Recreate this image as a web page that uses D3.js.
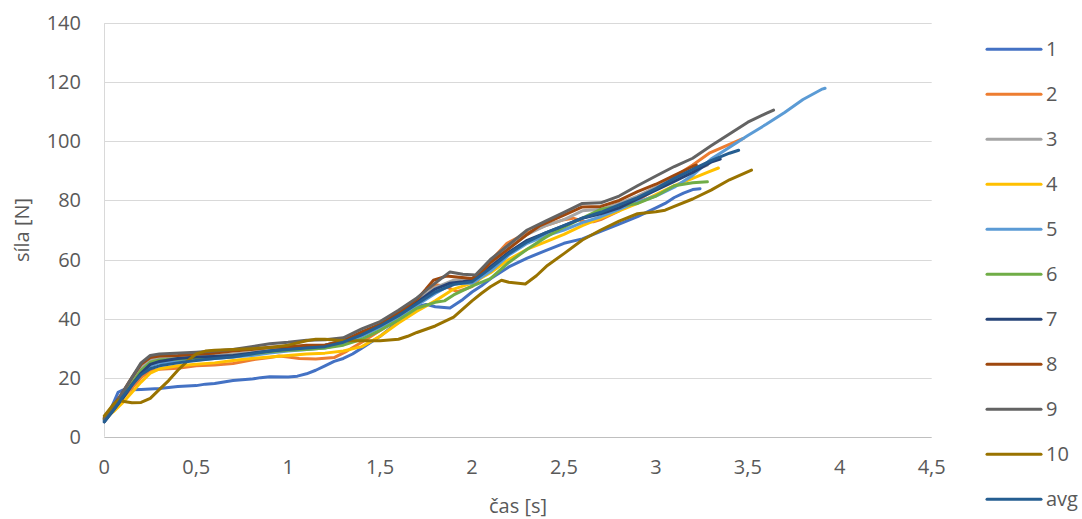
<!DOCTYPE html>
<html>
<head>
<meta charset="utf-8">
<script src="https://cdn.jsdelivr.net/npm/d3@7"></script>
<style>
  html, body { margin: 0; padding: 0; background: #fff; }
  svg { display: block; }
  text { font-family: "Open Sans", "Noto Sans", sans-serif; fill: #595959; }
</style>
</head>
<body>
<svg id="chart" width="1082" height="519"></svg>
<script>
// ---- data (time [s], force [N]) ----
const s1 = [[0,5.5],[0.04,10],[0.075,15],[0.1,15.8],[0.2,16],[0.3,16.3],[0.4,17],[0.5,17.3],[0.55,17.8],[0.6,18],[0.7,19],[0.8,19.5],[0.85,20],[0.9,20.3],[1.0,20.2],[1.05,20.5],[1.1,21.3],[1.15,22.5],[1.2,24],[1.25,25.5],[1.3,26.5],[1.35,28],[1.4,30],[1.45,32],[1.5,34],[1.55,36.5],[1.6,39],[1.65,41.5],[1.7,44],[1.75,44.8],[1.8,44],[1.88,43.6],[1.95,46.5],[2.0,49],[2.05,51],[2.1,53.5],[2.2,57.5],[2.3,60.5],[2.4,63],[2.5,65.5],[2.6,67],[2.7,69.5],[2.8,72],[2.9,74.5],[3.0,77.5],[3.05,79],[3.1,81],[3.15,82.5],[3.2,83.7],[3.24,84]];
const s2 = [[0,6],[0.05,9.5],[0.1,13],[0.15,16.5],[0.2,20],[0.25,22.3],[0.3,22.8],[0.4,23.2],[0.5,24],[0.6,24.3],[0.7,24.8],[0.8,26],[0.9,26.8],[0.95,27.3],[1.0,27],[1.06,26.5],[1.15,26.3],[1.25,26.8],[1.32,29],[1.4,32],[1.5,36],[1.6,40],[1.7,45],[1.75,47.4],[1.8,51.5],[1.85,51],[1.92,49.1],[2.0,50.8],[2.05,54],[2.1,59.5],[2.19,65.5],[2.3,69],[2.4,71.5],[2.5,73.5],[2.55,74],[2.6,73],[2.66,72.8],[2.7,73.5],[2.8,76.5],[2.9,80],[3.0,84],[3.1,88],[3.2,92],[3.29,96],[3.4,99],[3.475,101]];
const s3 = [[0,6],[0.05,10],[0.1,14.5],[0.15,19],[0.2,23.5],[0.25,26],[0.3,26.8],[0.4,27],[0.5,27.2],[0.6,27.5],[0.7,28],[0.8,28.5],[0.9,29.5],[1.0,30],[1.1,30.3],[1.2,30.5],[1.3,32],[1.4,35],[1.5,38],[1.6,41.5],[1.7,46],[1.8,50.5],[1.9,53],[2.0,53.5],[2.1,58.5],[2.2,64],[2.3,68.5],[2.4,71.5],[2.5,73.5],[2.6,76.5],[2.7,77],[2.8,79],[2.9,81.5],[3.0,84.5],[3.1,87.5],[3.2,90],[3.28,92]];
const s4 = [[0,6],[0.05,8.5],[0.1,11.5],[0.15,15],[0.2,18.5],[0.25,21.5],[0.3,23],[0.4,24],[0.5,24.5],[0.6,25],[0.7,25.8],[0.8,26.5],[0.9,27],[1.0,27.5],[1.1,28],[1.2,28.3],[1.3,29],[1.4,30.5],[1.5,34],[1.6,38.5],[1.7,42.5],[1.8,46],[1.9,50],[2.0,52],[2.1,55.5],[2.2,60],[2.3,63.5],[2.4,66],[2.5,68.5],[2.6,71.5],[2.7,74],[2.8,76.5],[2.9,79],[3.0,82],[3.1,85],[3.2,87.5],[3.28,89.5],[3.34,91]];
const s5 = [[0,5.5],[0.05,9.5],[0.1,13.5],[0.15,17.5],[0.2,21.5],[0.25,24],[0.3,25],[0.4,25.5],[0.5,26],[0.6,26.5],[0.7,27],[0.8,27.5],[0.9,28.3],[1.0,29],[1.1,29.5],[1.2,30],[1.3,31.5],[1.4,34],[1.5,37],[1.6,40.5],[1.7,44.5],[1.8,48.5],[1.9,52],[2.0,52],[2.1,56],[2.2,61.5],[2.3,65.5],[2.4,68],[2.5,70],[2.6,72.5],[2.7,74.5],[2.8,77],[2.9,79.5],[3.0,81.5],[3.1,84.5],[3.2,88.5],[3.3,94],[3.42,98.8],[3.5,102],[3.6,105.8],[3.7,109.8],[3.8,114.2],[3.9,117.6],[3.92,118]];
const s6 = [[0,6],[0.05,9.5],[0.1,13.5],[0.15,18],[0.2,22.5],[0.25,25.2],[0.3,26],[0.4,26.3],[0.5,26.5],[0.6,27],[0.7,27.3],[0.8,28],[0.9,28.8],[1.0,29.3],[1.1,29.5],[1.2,30],[1.3,31],[1.4,33],[1.5,36],[1.6,39.5],[1.7,43.5],[1.8,45.5],[1.85,46],[1.9,48],[2.0,51],[2.1,53.5],[2.2,59],[2.3,63.5],[2.4,67.5],[2.5,71],[2.6,74],[2.7,77],[2.8,78],[2.9,79],[3.0,81.5],[3.1,85],[3.2,86],[3.28,86.3]];
const s7 = [[0,5],[0.05,9],[0.1,13],[0.15,17.5],[0.2,21.5],[0.25,24.5],[0.3,25.5],[0.4,26.5],[0.5,27],[0.6,27.2],[0.7,27.5],[0.8,28.3],[0.9,29],[1.0,29.8],[1.1,30.5],[1.2,31],[1.3,32.5],[1.4,35],[1.5,38],[1.6,41.5],[1.7,45.5],[1.8,50],[1.88,52],[1.95,52.5],[2.0,53],[2.1,57.5],[2.2,62.5],[2.3,66.5],[2.4,69],[2.5,71.5],[2.6,74],[2.7,75.5],[2.8,77.5],[2.9,80.5],[3.0,83.5],[3.1,86.5],[3.2,89.5],[3.3,93],[3.35,94]];
const s8 = [[0,6.5],[0.05,10.5],[0.1,15],[0.15,20],[0.2,24.5],[0.25,26.8],[0.3,27.3],[0.4,27.5],[0.5,28],[0.6,28.3],[0.7,29],[0.8,29.5],[0.9,30.3],[1.0,30.5],[1.1,31],[1.2,31],[1.3,32.5],[1.4,35.5],[1.5,38],[1.6,42],[1.7,46.5],[1.75,50],[1.79,53],[1.86,54.4],[1.93,54],[2.0,53.6],[2.05,55.5],[2.1,59],[2.19,63.2],[2.3,68.5],[2.37,71.5],[2.5,75],[2.6,77.8],[2.7,78],[2.8,80],[2.9,83],[3.0,85.5],[3.1,88.5],[3.2,91.5],[3.22,92]];
const s9 = [[0,6],[0.05,10],[0.1,15],[0.15,20],[0.2,25],[0.25,27.5],[0.3,28],[0.5,28.6],[0.6,29],[0.7,29.5],[0.8,30.5],[0.9,31.5],[1.0,32],[1.1,32.7],[1.2,32.8],[1.3,33.5],[1.4,36.5],[1.5,39],[1.6,42.8],[1.7,47],[1.8,52],[1.88,55.8],[1.95,55],[2.02,54.8],[2.1,60],[2.2,65],[2.3,70],[2.4,73],[2.5,76],[2.6,79],[2.7,79.2],[2.8,81.5],[2.9,85],[3.0,88.3],[3.1,91.5],[3.2,94.3],[3.3,98.5],[3.4,102.5],[3.5,106.5],[3.6,109.5],[3.64,110.6]];
const s10 = [[0,7],[0.05,11],[0.08,12.5],[0.1,12],[0.15,11.5],[0.2,11.6],[0.25,13],[0.3,16],[0.35,19],[0.4,22.5],[0.45,25.5],[0.5,28],[0.55,29],[0.6,29.3],[0.7,29.5],[0.8,29.8],[0.9,30.2],[1.0,31],[1.1,32.5],[1.15,33],[1.2,33],[1.3,32.5],[1.4,32.5],[1.5,32.5],[1.6,33],[1.65,34],[1.7,35.3],[1.8,37.5],[1.9,40.5],[2.0,46],[2.05,48.5],[2.1,50.8],[2.16,53],[2.2,52.3],[2.29,51.7],[2.35,54.5],[2.41,58],[2.5,62],[2.6,66.6],[2.7,70],[2.8,73],[2.9,75.5],[3.0,76.2],[3.05,76.7],[3.1,78],[3.2,80.5],[3.3,83.5],[3.4,87],[3.52,90.3]];
const avg = [[0,5],[0.05,9],[0.1,13.5],[0.15,17.5],[0.2,21],[0.25,23],[0.3,24],[0.4,25],[0.5,25.8],[0.6,26.5],[0.7,27],[0.8,28],[0.9,29],[1.0,29.5],[1.1,30],[1.2,30.5],[1.3,32],[1.4,34.5],[1.5,37.5],[1.6,41],[1.7,45],[1.8,49],[1.9,51.5],[2.0,52.5],[2.1,57],[2.2,62],[2.3,66],[2.4,69],[2.5,71.5],[2.6,74],[2.7,76],[2.8,78.5],[2.9,81],[3.0,84],[3.1,87.5],[3.2,90.5],[3.3,93.5],[3.4,96],[3.45,97]];

const seriesNames = ["1","2","3","4","5","6","7","8","9","10","avg"];
const seriesData = [s1,s2,s3,s4,s5,s6,s7,s8,s9,s10,avg];
const colors = ["#4472C4","#ED7D31","#A5A5A5","#FFC000","#5B9BD5","#70AD47","#264478","#9E480E","#636363","#997300","#255E91"];
const xTicks = [0,0.5,1,1.5,2,2.5,3,3.5,4,4.5];
const yTicks = [0,20,40,60,80,100,120,140];
const xTitle = "čas [s]";
const yTitle = "síla [N]";

// ---- layout ----
const svg = d3.select("#chart");
const pLeft = 104.3, pRight = 931.7, pTop = 23.3, pBottom = 436.7;
const x = d3.scaleLinear().domain([0, 4.5]).range([pLeft, pRight]);
const y = d3.scaleLinear().domain([0, 140]).range([pBottom, pTop]);
const loc = d3.formatLocale({decimal: ",", thousands: " ", grouping: [3], currency: ["", ""]});
const fmt = v => loc.format("")(v);

// gridlines
svg.append("g").selectAll("line").data(yTicks.filter(d => d > 0)).join("line")
  .attr("x1", pLeft).attr("x2", pRight)
  .attr("y1", d => Math.round(y(d)) + 0.5).attr("y2", d => Math.round(y(d)) + 0.5)
  .attr("stroke", "#D9D9D9").attr("stroke-width", 1);
// left axis line
svg.append("line").attr("x1", Math.round(pLeft) + 0.5).attr("x2", Math.round(pLeft) + 0.5)
  .attr("y1", pTop).attr("y2", pBottom).attr("stroke", "#D9D9D9").attr("stroke-width", 1);
// bottom axis line
svg.append("line").attr("x1", pLeft).attr("x2", pRight)
  .attr("y1", Math.round(pBottom) + 0.5).attr("y2", Math.round(pBottom) + 0.5)
  .attr("stroke", "#BFBFBF").attr("stroke-width", 1);

// y tick labels
svg.append("g").selectAll("text").data(yTicks).join("text")
  .attr("x", 81).attr("y", d => y(d)).attr("dy", "0.35em")
  .attr("text-anchor", "end").attr("font-size", 20).text(d => fmt(d));
// x tick labels
svg.append("g").selectAll("text").data(xTicks).join("text")
  .attr("x", d => x(d)).attr("y", 467).attr("dy", "0.35em")
  .attr("text-anchor", "middle").attr("font-size", 20).text(d => fmt(d));

// axis titles
svg.append("text").attr("x", (pLeft + pRight) / 2).attr("y", 506).attr("dy", "0.35em")
  .attr("text-anchor", "middle").attr("font-size", 20).text(xTitle);
svg.append("text").attr("transform", `translate(22,${(pTop + pBottom) / 2}) rotate(-90)`)
  .attr("dy", "0.35em").attr("text-anchor", "middle").attr("font-size", 20).text(yTitle);

// lines
const line = d3.line().x(d => x(d[0])).y(d => y(d[1]));
svg.append("g").selectAll("path").data(seriesData).join("path")
  .attr("d", d => line(d))
  .attr("fill", "none")
  .attr("stroke", (d, i) => colors[i])
  .attr("stroke-width", 3)
  .attr("stroke-linejoin", "round")
  .attr("stroke-linecap", "round");

// legend
const lg = svg.append("g").selectAll("g").data(seriesNames).join("g")
  .attr("transform", (d, i) => `translate(0,${49.3 + i * 45})`);
lg.append("line").attr("x1", 987).attr("x2", 1041).attr("y1", 0).attr("y2", 0)
  .attr("stroke", (d, i) => colors[i]).attr("stroke-width", 3).attr("stroke-linecap", "round");
lg.append("text").attr("x", 1046).attr("y", 0).attr("dy", "0.35em")
  .attr("font-size", 20).text(d => d);
</script>
</body>
</html>
